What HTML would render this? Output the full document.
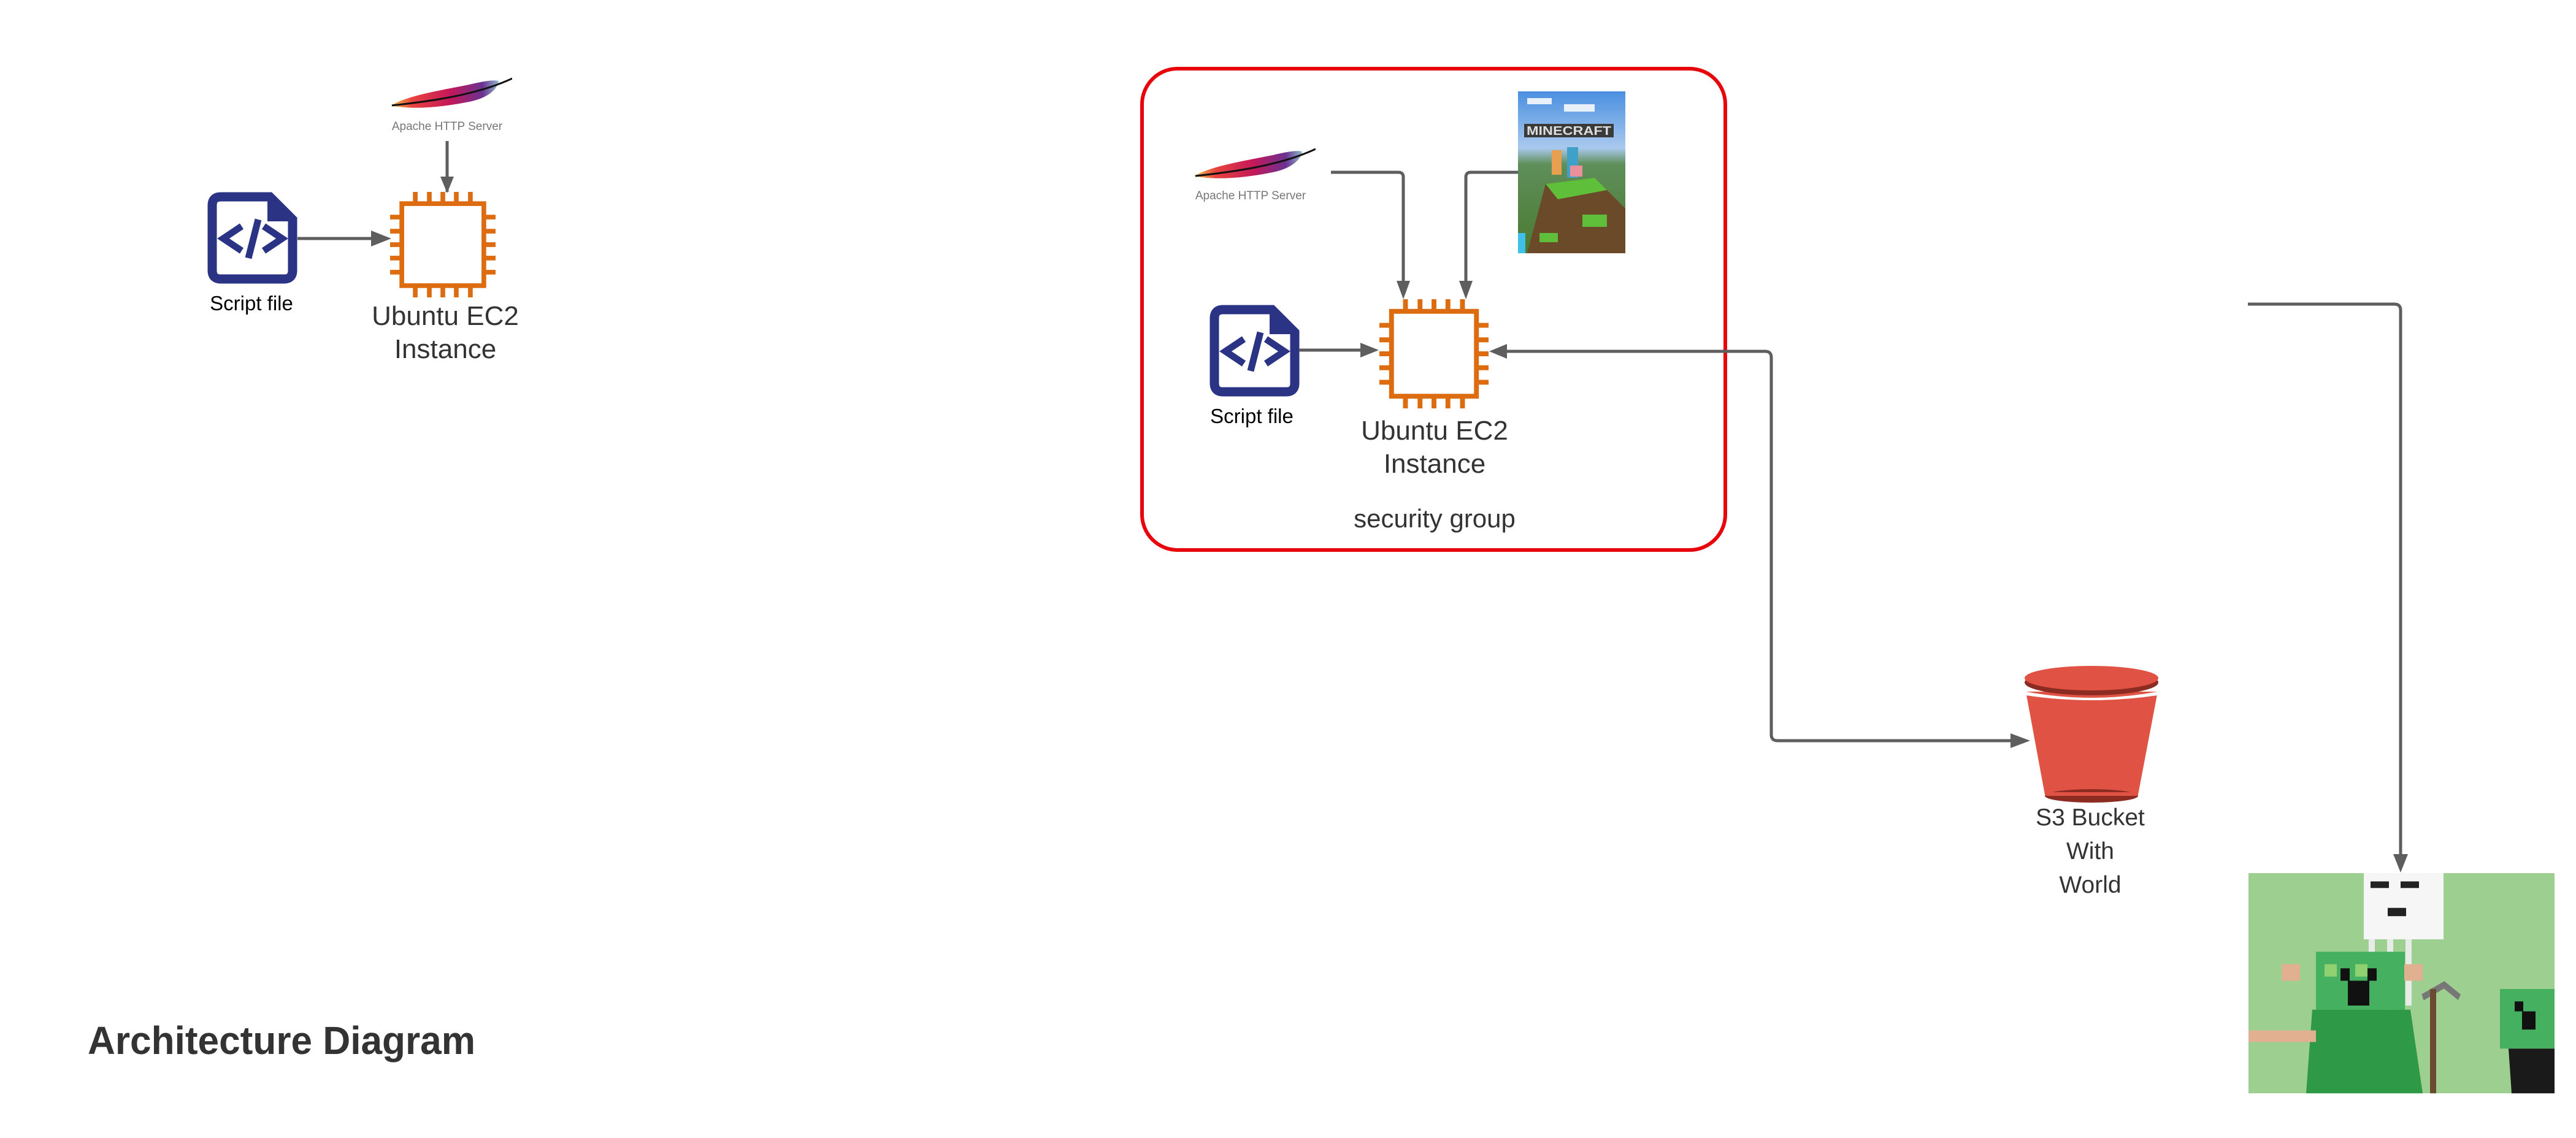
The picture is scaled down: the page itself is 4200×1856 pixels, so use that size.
<!DOCTYPE html>
<html><head><meta charset="utf-8"><style>
html,body{margin:0;padding:0;background:#fff;}
svg{display:block;}
text{font-family:"Liberation Sans",sans-serif;}
</style></head><body>
<svg width="4200" height="1856" viewBox="0 0 4200 1856" xmlns="http://www.w3.org/2000/svg">
<defs>
  <symbol id="chip" viewBox="0 0 180 180">
    <rect x="20" y="20" width="140" height="140" fill="none" stroke="#dd6b10" stroke-width="8"/>
    <g stroke="#dd6b10" stroke-width="8">
      <line x1="43" y1="0" x2="43" y2="20"/><line x1="67" y1="0" x2="67" y2="20"/><line x1="90" y1="0" x2="90" y2="20"/><line x1="113" y1="0" x2="113" y2="20"/><line x1="137" y1="0" x2="137" y2="20"/>
      <line x1="43" y1="160" x2="43" y2="180"/><line x1="67" y1="160" x2="67" y2="180"/><line x1="90" y1="160" x2="90" y2="180"/><line x1="113" y1="160" x2="113" y2="180"/><line x1="137" y1="160" x2="137" y2="180"/>
      <line y1="43" x1="0" y2="43" x2="20"/><line y1="67" x1="0" y2="67" x2="20"/><line y1="90" x1="0" y2="90" x2="20"/><line y1="113" x1="0" y2="113" x2="20"/><line y1="137" x1="0" y2="137" x2="20"/>
      <line y1="43" x1="160" y2="43" x2="180"/><line y1="67" x1="160" y2="67" x2="180"/><line y1="90" x1="160" y2="90" x2="180"/><line y1="113" x1="160" y2="113" x2="180"/><line y1="137" x1="160" y2="137" x2="180"/>
    </g>
  </symbol>
  <symbol id="script" viewBox="0 0 147 150">
    <path d="M22,8 H102 L139,45 V128 Q139,142 125,142 H22 Q8,142 8,128 V22 Q8,8 22,8 Z" fill="none" stroke="#2b3384" stroke-width="15"/>
    <path d="M98,8 V48 H139 L98,8" fill="#2b3384"/>
    <polyline points="56,56 26,76 56,96" fill="none" stroke="#2b3384" stroke-width="11"/>
    <line x1="83" y1="45" x2="67" y2="108" stroke="#2b3384" stroke-width="11"/>
    <polyline points="92,56 122,76 92,96" fill="none" stroke="#2b3384" stroke-width="11"/>
  </symbol>
  <linearGradient id="feath" x1="0" y1="0" x2="1" y2="0">
    <stop offset="0" stop-color="#f3c64b"/><stop offset="0.2" stop-color="#e8433d"/><stop offset="0.55" stop-color="#c4185a"/><stop offset="0.85" stop-color="#6b3190"/><stop offset="1" stop-color="#8fb8cc"/>
  </linearGradient>
  <symbol id="feather" viewBox="0 0 200 56">
    <path d="M2,46 C30,30 80,22 130,12 C155,6 170,4 178,6 C176,20 160,34 130,40 C90,48 40,54 2,46 Z" fill="url(#feath)"/>
    <path d="M4,46 C60,40 140,30 200,2" fill="none" stroke="#111" stroke-width="3"/>
  </symbol>
  <linearGradient id="sky" x1="0" y1="0" x2="0" y2="1">
    <stop offset="0" stop-color="#4a8fe0"/><stop offset="0.35" stop-color="#a9c9ee"/><stop offset="0.45" stop-color="#5f8f5a"/><stop offset="1" stop-color="#4a7a30"/>
  </linearGradient>
</defs>

<!-- LEFT DIAGRAM -->
<use href="#feather" x="635" y="126" width="200" height="56"/>
<text x="729" y="212" font-size="19" fill="#777" text-anchor="middle">Apache HTTP Server</text>
<line x1="729" y1="230" x2="729" y2="313" stroke="#5e5e5e" stroke-width="5"/>
<path d="M718,288 L740,288 L729,315 Z" fill="#5e5e5e"/>
<use href="#script" x="338" y="313" width="147" height="150"/>
<text x="410" y="506" font-size="33" fill="#000" text-anchor="middle">Script file</text>
<line x1="485" y1="389" x2="610" y2="389" stroke="#5e5e5e" stroke-width="5"/>
<path d="M605,376 L638,389 L605,402 Z" fill="#5e5e5e"/>
<use href="#chip" x="636" y="313" width="172" height="172"/>
<text x="726" y="530" font-size="44" fill="#333" text-anchor="middle">Ubuntu EC2</text>
<text x="726" y="584" font-size="44" fill="#333" text-anchor="middle">Instance</text>

<!-- SECURITY GROUP -->
<rect x="1862" y="112" width="951" height="785" rx="58" ry="58" fill="none" stroke="#e8060d" stroke-width="6"/>
<use href="#feather" x="1945" y="241" width="200" height="56"/>
<text x="2039" y="325" font-size="19" fill="#777" text-anchor="middle">Apache HTTP Server</text>

<!-- minecraft image -->
<g>
  <rect x="2475" y="149" width="175" height="264" fill="url(#sky)"/>
  <rect x="2490" y="160" width="40" height="10" fill="#e8f0fb"/>
  <rect x="2550" y="170" width="50" height="12" fill="#e8f0fb"/>
  <rect x="2485" y="202" width="146" height="22" fill="#3a3a3a"/>
  <text x="2558" y="220" font-size="20" font-weight="bold" fill="#ddd" text-anchor="middle" textLength="138" lengthAdjust="spacingAndGlyphs">MINECRAFT</text>
  <path d="M2490,413 L2520,300 L2600,290 L2650,340 L2650,413 Z" fill="#6b4a2a"/>
  <path d="M2520,300 L2600,290 L2620,310 L2540,325 Z" fill="#5fbf3a"/>
  <rect x="2580" y="350" width="40" height="20" fill="#5fbf3a"/>
  <rect x="2510" y="380" width="30" height="15" fill="#5fbf3a"/>
  <rect x="2555" y="240" width="18" height="50" fill="#3fa0c8"/>
  <rect x="2530" y="245" width="16" height="40" fill="#e8a050"/>
  <rect x="2560" y="270" width="20" height="18" fill="#e9909a"/>
  <rect x="2475" y="380" width="12" height="33" fill="#3fc0e8"/>
</g>

<!-- connectors in group -->
<path d="M2170,281 H2280 Q2288,281 2288,289 V460" fill="none" stroke="#5e5e5e" stroke-width="5"/>
<path d="M2277,458 L2299,458 L2288,488 Z" fill="#5e5e5e"/>
<path d="M2475,281 H2398 Q2390,281 2390,289 V460" fill="none" stroke="#5e5e5e" stroke-width="5"/>
<path d="M2379,458 L2401,458 L2390,488 Z" fill="#5e5e5e"/>

<use href="#script" x="1972" y="497" width="147" height="150"/>
<text x="2041" y="690" font-size="33" fill="#000" text-anchor="middle">Script file</text>
<line x1="2118" y1="571" x2="2222" y2="571" stroke="#5e5e5e" stroke-width="5"/>
<path d="M2218,559 L2248,571 L2218,583 Z" fill="#5e5e5e"/>
<use href="#chip" x="2249" y="488" width="178" height="178"/>
<text x="2339" y="717" font-size="44" fill="#333" text-anchor="middle">Ubuntu EC2</text>
<text x="2339" y="771" font-size="44" fill="#333" text-anchor="middle">Instance</text>
<text x="2339" y="860" font-size="42" fill="#333" text-anchor="middle">security group</text>

<!-- connector to S3 -->
<path d="M2455,573 H2878 Q2888,573 2888,583 V1198 Q2888,1208 2898,1208 H3280" fill="none" stroke="#5e5e5e" stroke-width="5"/>
<path d="M2457,561 L2428,573 L2457,585 Z" fill="#5e5e5e"/>
<path d="M3278,1196 L3310,1208 L3278,1220 Z" fill="#5e5e5e"/>

<!-- S3 bucket -->
<g>
  <path d="M3303,1128 L3518,1128 L3486,1296 L3334,1296 Z" fill="#e05243"/>
  <ellipse cx="3410" cy="1298" rx="76" ry="11" fill="#8c2b22"/>
  <path d="M3334,1292 L3486,1292 L3484,1298 L3336,1298 Z" fill="#e05243"/>
  <path d="M3303,1128 Q3410,1148 3518,1128 L3518,1134 Q3410,1150 3303,1134 Z" fill="#fff"/>
  <ellipse cx="3410" cy="1113" rx="109" ry="21" fill="#8c2b22"/>
  <ellipse cx="3410" cy="1106" rx="109" ry="20" fill="#e05243"/>
</g>
<text x="3408" y="1346" font-size="39" fill="#333" text-anchor="middle">S3 Bucket</text>
<text x="3408" y="1401" font-size="39" fill="#333" text-anchor="middle">With</text>
<text x="3408" y="1456" font-size="39" fill="#333" text-anchor="middle">World</text>

<!-- top right connector -->
<path d="M3665,496 H3904 Q3914,496 3914,506 V1395" fill="none" stroke="#5e5e5e" stroke-width="5"/>
<path d="M3902,1393 L3926,1393 L3914,1423 Z" fill="#5e5e5e"/>

<!-- photo -->
<g transform="translate(3666,1424) scale(1,1.35) translate(-3666,-1330)">
  <rect x="3666" y="1330" width="499" height="266" fill="#9ccf90"/>
  <rect x="3854" y="1330" width="130" height="80" fill="#f6f6f6"/>
  <rect x="3865" y="1340" width="30" height="8" fill="#222"/>
  <rect x="3914" y="1340" width="30" height="8" fill="#222"/>
  <rect x="3893" y="1372" width="30" height="10" fill="#222"/>
  <rect x="3862" y="1410" width="10" height="80" fill="#e8ece8"/>
  <rect x="3892" y="1410" width="10" height="90" fill="#e8ece8"/>
  <rect x="3922" y="1410" width="10" height="80" fill="#e8ece8"/>
  <rect x="3776" y="1425" width="145" height="70" fill="#44b060"/>
  <rect x="3790" y="1440" width="20" height="15" fill="#8fd070"/>
  <rect x="3840" y="1440" width="20" height="15" fill="#8fd070"/>
  <rect x="3816" y="1445" width="15" height="15" fill="#111"/>
  <rect x="3860" y="1445" width="15" height="15" fill="#111"/>
  <rect x="3828" y="1460" width="35" height="30" fill="#111"/>
  <path d="M3770,1495 L3930,1495 L3950,1596 L3760,1596 Z" fill="#2e9a48"/>
  <rect x="3666" y="1520" width="110" height="14" fill="#e0b090"/>
  <rect x="3720" y="1440" width="30" height="20" fill="#e0b090"/>
  <rect x="3920" y="1440" width="30" height="20" fill="#e0b090"/>
  <rect x="4076" y="1470" width="89" height="72" fill="#44b060"/>
  <rect x="4100" y="1485" width="14" height="12" fill="#111"/>
  <rect x="4112" y="1497" width="22" height="22" fill="#111"/>
  <path d="M4090,1542 L4165,1542 L4165,1596 L4095,1596 Z" fill="#1a1a1a"/>
  <path d="M3950,1480 L3985,1465 L4010,1480" fill="none" stroke="#777" stroke-width="8"/>
  <rect x="3962" y="1470" width="10" height="126" fill="#6a4a30"/>
</g>

<!-- title -->
<text x="143" y="1719" font-size="64" font-weight="bold" fill="#333" textLength="632" lengthAdjust="spacingAndGlyphs">Architecture Diagram</text>
</svg>
</body></html>
